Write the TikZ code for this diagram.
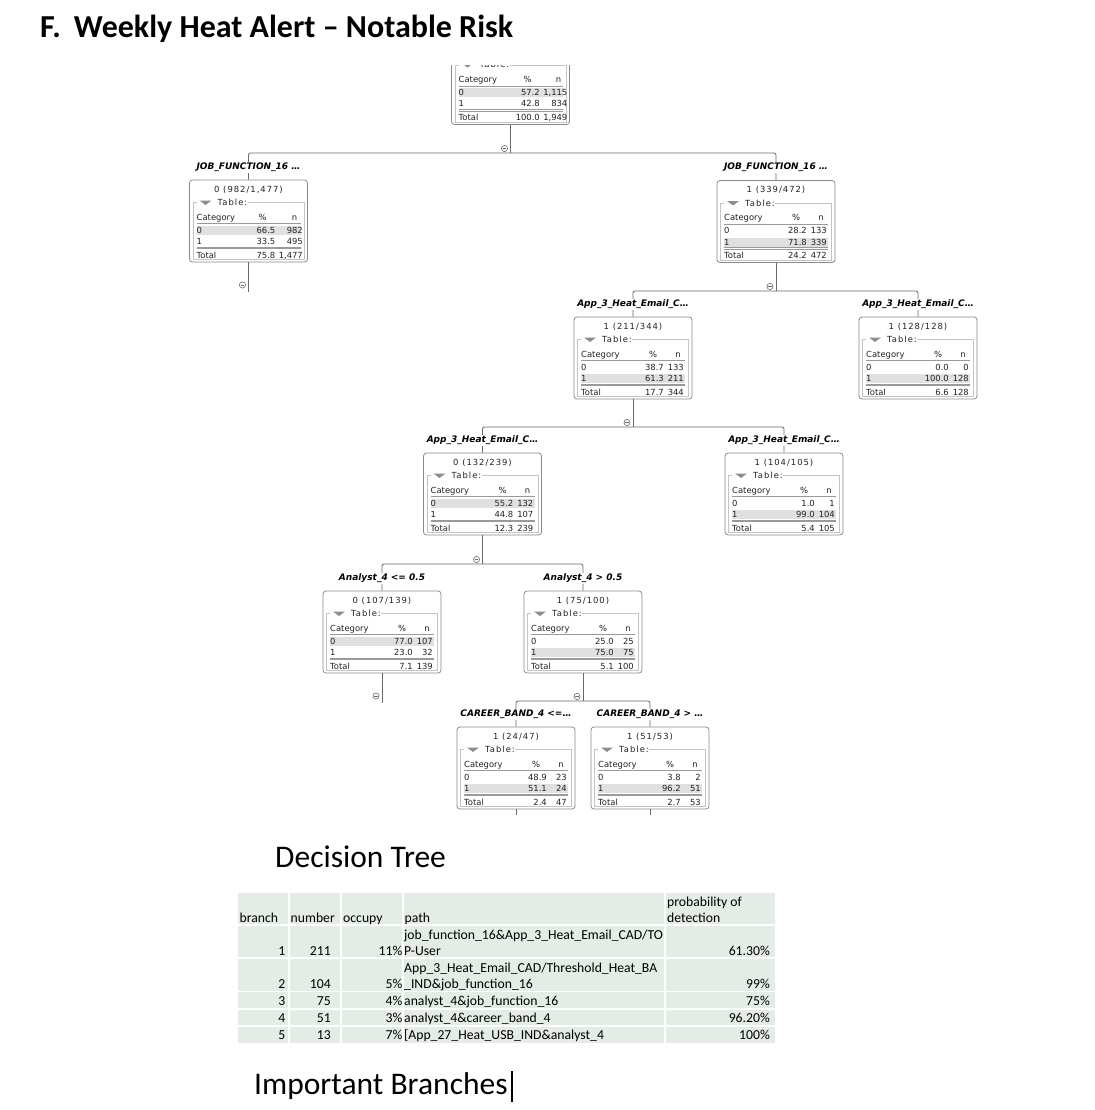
\documentclass[tikz,border=0pt]{standalone}
\usepackage{fontspec}
\setmainfont{Carlito}
\newfontfamily\tf{DejaVu Sans}
\newfontfamily\tfh{DejaVu Sans}[LetterSpace=12]
\definecolor{boxgray}{HTML}{8A8A8A}
\definecolor{lngray}{HTML}{6A6A6A}
\definecolor{frmgray}{HTML}{C4C4C4}
\definecolor{hlc}{HTML}{E0E0E0}
\definecolor{txtc}{HTML}{222222}
\definecolor{trigray}{HTML}{8C8C8C}
\definecolor{rulec}{HTML}{9A9A9A}
\definecolor{tblbg}{HTML}{E4ECE6}
\tikzset{
  tbox/.style={draw=boxgray, line width=0.8pt, rounded corners=3pt, fill=white,
    minimum width=118pt, minimum height=82pt, inner sep=0pt},
  tx/.style={font=\tf\fontsize{8.4}{9}\selectfont, inner sep=0pt, text=txtc},
  hx/.style={font=\tfh\fontsize{8.4}{9}\selectfont, inner sep=0pt, text=txtc},
  lbl/.style={font=\tf\fontsize{9}{10}\selectfont\bfseries\itshape, fill=white,
    inner xsep=1pt, inner ysep=1pt, text=black, anchor=base},
  conn/.style={draw=lngray, line width=0.8pt, rounded corners=2pt},
  conn0/.style={draw=lngray, line width=0.8pt},
  frm/.style={draw=frmgray, line width=0.5pt},
  rl/.style={draw=rulec, line width=0.6pt},
  minusmark/.style={draw=lngray, line width=0.6pt},
  tb/.style={font=\fontsize{13.7}{16}\selectfont, inner sep=0pt, text=black},
  big/.style={inner sep=0pt, anchor=base west, text=black}
}
\def\prx{31}\def\nrx{51}\def\pcx{20}\def\ncx{45}
% name, cx, T, header, hl, r0p, r0n, r1p, r1n
\newcommand\tnode[9]{%
  \def\curx{#2}\def\cury{#3}\def\curn{#1}%
  \node[tbox] (#1) at ({#2},{#3+41}) {};
  \node[hx,anchor=base] (#1-h) at ({#2},{#3+12.5}) {#4};
  \draw[frm] ({#2-55.5},{#3+22.5}) rectangle ({#2+55.5},{#3+79.5});
  \fill[white] ({#2-52},{#3+19.5}) rectangle ({#2-1},{#3+25.5});
  \fill[trigray] ({#2-49},{#3+20.5}) -- ({#2-37},{#3+20.5}) -- ({#2-43},{#3+25}) -- cycle;
  \node[hx,anchor=base west] (#1-t) at ({#2-31},{#3+25.5}) {Table:};
  \ifnum#5=0
    \fill[hlc] ({#2-52},{#3+45.5}) rectangle ({#2+52},{#3+54.5});
  \else
    \fill[hlc] ({#2-52},{#3+57}) rectangle ({#2+52},{#3+66});
  \fi
  \node[tx,anchor=base west] (#1-c) at ({#2-52},{#3+40}) {Category};
  \node[tx,anchor=base] (#1-pc) at ({#2+\pcx},{#3+40}) {\%};
  \node[tx,anchor=base] (#1-nc) at ({#2+\ncx},{#3+40}) {n};
  \draw[rl] ({#2-52},{#3+43.5}) -- ({#2+52},{#3+43.5});
  \node[tx,anchor=base west] (#1-r0) at ({#2-52},{#3+53}) {0};
  \node[tx,anchor=base east] (#1-r0p) at ({#2+\prx},{#3+53}) {#6};
  \node[tx,anchor=base east] (#1-r0n) at ({#2+\nrx},{#3+53}) {#7};
  \node[tx,anchor=base west] (#1-r1) at ({#2-52},{#3+64.5}) {1};
  \node[tx,anchor=base east] (#1-r1p) at ({#2+\prx},{#3+64.5}) {#8};
  \node[tx,anchor=base east] (#1-r1n) at ({#2+\nrx},{#3+64.5}) {#9};
  \draw[rl] ({#2-52},{#3+67}) -- ({#2+52},{#3+67});
  \draw[rl] ({#2-52},{#3+68.6}) -- ({#2+52},{#3+68.6});
}
\newcommand\ttot[2]{%
  \node[tx,anchor=base west] (\curn-tl) at ({\curx-52},{\cury+78}) {Total};
  \node[tx,anchor=base east] (\curn-tp) at ({\curx+\prx},{\cury+78}) {#1};
  \node[tx,anchor=base east] (\curn-tn) at ({\curx+\nrx},{\cury+78}) {#2};
}
\newcommand\cmin[2]{%
  \draw[minusmark,fill=white] ({#1},{#2}) circle (3.1pt);
  \draw[minusmark] ({#1-1.6},{#2}) -- ({#1+1.6},{#2});
}
\newcommand\trow[6]{%
  \node[tb,anchor=base east] (#1b) at (285.5,#2) {#3};
  \node[tb,anchor=base east] (#1n) at (331,#2) {#4};
  \node[tb,anchor=base east] (#1o) at (402.5,#2) {#5};
  \node[tb,anchor=base east] (#1p) at (770,#2) {#6};
}
\begin{document}
\begin{tikzpicture}[x=1pt,y=-1pt]
\useasboundingbox (0,0) rectangle (1094,1110);
\fill[white] (0,0) rectangle (1094,1110);

% ---------- titles ----------
\node[big,font=\fontsize{32}{36}\selectfont\bfseries] (title) at (40,38)
  {F.\hspace{13pt}Weekly Heat Alert – Notable Risk};
\node[big,font=\fontsize{31.5}{36}\selectfont] (dtree) at (275,867) {Decision Tree};
\node[big,font=\fontsize{31.5}{36}\selectfont] (ibr) at (254,1094) {Important Branches};
\draw[line width=1.3pt] (512,1071) -- (512,1102);

% ---------- tree nodes ----------
\begin{scope}
  \clip (0,65.5) rectangle (1094,1110);
  \def\prx{29.5}\def\nrx{57}\def\pcx{17}\def\ncx{48}
  \tnode{root}{510.5}{42.5}{}{0}{57.2}{1,115}{42.8}{834}
  \ttot{100.0}{1,949}
\end{scope}

\def\prx{27}\def\nrx{54.5}\def\pcx{14}\def\ncx{46}
\tnode{A}{248.5}{180}{0 (982/1,477)}{0}{66.5}{982}{33.5}{495}
\ttot{75.8}{1,477}
\def\prx{31}\def\nrx{51}\def\pcx{20}\def\ncx{45}
\tnode{B}{776}{180.5}{1 (339/472)}{1}{28.2}{133}{71.8}{339}
\ttot{24.2}{472}
\tnode{B1}{633}{317}{1 (211/344)}{1}{38.7}{133}{61.3}{211}
\ttot{17.7}{344}
\tnode{B2}{918}{317}{1 (128/128)}{1}{0.0}{0}{100.0}{128}
\ttot{6.6}{128}
\tnode{C1}{482.5}{453}{0 (132/239)}{0}{55.2}{132}{44.8}{107}
\ttot{12.3}{239}
\tnode{C2}{784}{453}{1 (104/105)}{1}{1.0}{1}{99.0}{104}
\ttot{5.4}{105}
\tnode{D1}{382}{591}{0 (107/139)}{0}{77.0}{107}{23.0}{32}
\ttot{7.1}{139}
\tnode{D2}{583}{591}{1 (75/100)}{1}{25.0}{25}{75.0}{75}
\ttot{5.1}{100}
\tnode{E1}{516}{727}{1 (24/47)}{1}{48.9}{23}{51.1}{24}
\ttot{2.4}{47}
\tnode{E2}{650}{727}{1 (51/53)}{1}{3.8}{2}{96.2}{51}
\ttot{2.7}{53}

% ---------- connectors ----------
\coordinate (j0) at (510.5,153);
\coordinate (j1) at (776,291);
\coordinate (j2) at (633,427);
\coordinate (j3) at (482.5,564);
\coordinate (j4) at (583,701);
\coordinate (Aend) at (248.5,292);
\coordinate (D1end) at (382,703);
\coordinate (E1end) at (516,815);
\coordinate (E2end) at (650,815);

\draw[conn0] (root.south) -- (j0);
\draw[conn] (j0) -| (A.north);
\draw[conn] (j0) -| (B.north);
\draw[conn0] (B.south) -- (j1);
\draw[conn] (j1) -| (B1.north);
\draw[conn] (j1) -| (B2.north);
\draw[conn0] (B1.south) -- (j2);
\draw[conn] (j2) -| (C1.north);
\draw[conn] (j2) -| (C2.north);
\draw[conn0] (C1.south) -- (j3);
\draw[conn] (j3) -| (D1.north);
\draw[conn] (j3) -| (D2.north);
\draw[conn0] (D2.south) -- (j4);
\draw[conn] (j4) -| (E1.north);
\draw[conn] (j4) -| (E2.north);
\draw[conn0] (A.south) -- (Aend);
\draw[conn0] (D1.south) -- (D1end);
\draw[conn0] (E1.south) -- (E1end);
\draw[conn0] (E2.south) -- (E2end);

% ---------- collapse markers ----------
\cmin{504.5}{148.5}
\cmin{770}{286.5}
\cmin{627}{422.5}
\cmin{476.5}{559.5}
\cmin{577}{696.5}
\cmin{242.5}{285}
\cmin{376}{696}

% ---------- split labels ----------
\node[lbl] (lA) at (248.5,169.5) {JOB\_FUNCTION\_16 …};
\node[lbl] (lB) at (776,170) {JOB\_FUNCTION\_16 …};
\node[lbl] (lB1) at (633,306.5) {App\_3\_Heat\_Email\_C…};
\node[lbl] (lB2) at (918,306.5) {App\_3\_Heat\_Email\_C…};
\node[lbl] (lC1) at (482.5,442.5) {App\_3\_Heat\_Email\_C…};
\node[lbl] (lC2) at (784,442.5) {App\_3\_Heat\_Email\_C…};
\node[lbl] (lD1) at (382,580.5) {Analyst\_4 <= 0.5};
\node[lbl] (lD2) at (583,580.5) {Analyst\_4 > 0.5};
\node[lbl] (lE1) at (516,716.5) {CAREER\_BAND\_4 <=…};
\node[lbl] (lE2) at (650,716.5) {CAREER\_BAND\_4 > …};

% ---------- branches table ----------
\fill[tblbg] (238,893) rectangle (775,1043);
\foreach \xx in {289,341,403,665} \draw[white,line width=1.2pt] (\xx,893) -- (\xx,1043);
\foreach \yy in {925,958,991.5,1009,1026} \draw[white,line width=1.2pt] (238,\yy) -- (775,\yy);

\node[tb,anchor=base west] (hb) at (239.5,922) {branch};
\node[tb,anchor=base west] (hn) at (290.5,922) {number};
\node[tb,anchor=base west] (ho) at (343,922) {occupy};
\node[tb,anchor=base west] (hp) at (404.5,922) {path};
\node[tb,anchor=base west] (hd1) at (667,906) {probability of};
\node[tb,anchor=base west] (hd2) at (667,922) {detection};

\trow{ra}{955}{1}{211}{11\%}{61.30\%}
\node[tb,anchor=base west] (pa1) at (404,939) {job\_function\_16\&App\_3\_Heat\_Email\_CAD/TO};
\node[tb,anchor=base west] (pa2) at (404,955) {P-User};
\trow{rb}{988}{2}{104}{5\%}{99\%}
\node[tb,anchor=base west] (pb1) at (404,972) {App\_3\_Heat\_Email\_CAD/Threshold\_Heat\_BA};
\node[tb,anchor=base west] (pb2) at (404,988) {\_IND\&job\_function\_16};
\trow{rc}{1005}{3}{75}{4\%}{75\%}
\node[tb,anchor=base west] (pc1) at (404,1005) {analyst\_4\&job\_function\_16};
\trow{rd}{1022}{4}{51}{3\%}{96.20\%}
\node[tb,anchor=base west] (pd1) at (404,1022) {analyst\_4\&career\_band\_4};
\trow{re}{1039.5}{5}{13}{7\%}{100\%}
\node[tb,anchor=base west] (pe1) at (404,1039.5) {[App\_27\_Heat\_USB\_IND\&analyst\_4};
\end{tikzpicture}
\end{document}
